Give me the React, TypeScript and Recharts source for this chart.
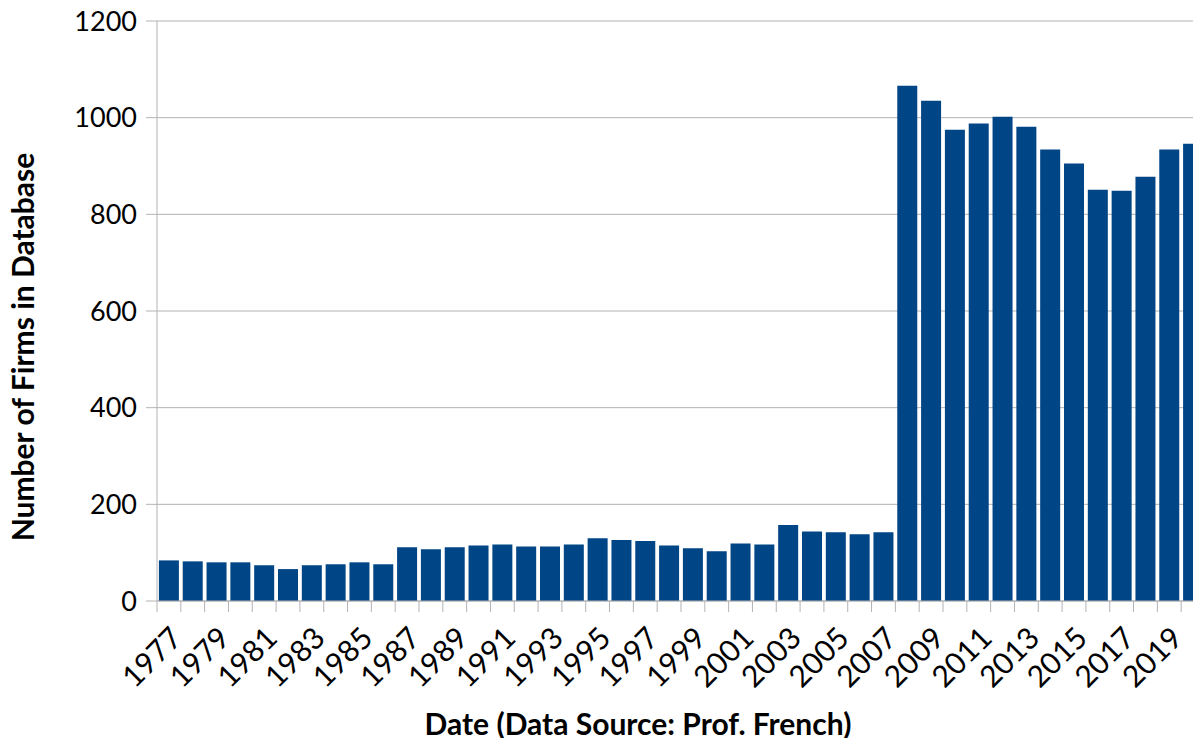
import { Bar, BarChart, CartesianGrid, XAxis, YAxis } from 'recharts';

const years = [
  '1977', '1978', '1979', '1980', '1981', '1982', '1983', '1984', '1985', '1986',
  '1987', '1988', '1989', '1990', '1991', '1992', '1993', '1994', '1995', '1996',
  '1997', '1998', '1999', '2000', '2001', '2002', '2003', '2004', '2005', '2006',
  '2007', '2008', '2009', '2010', '2011', '2012', '2013', '2014', '2015', '2016',
  '2017', '2018', '2019', '2020',
];

const firmCounts = [
  84, 82, 80, 80, 74, 66, 74, 76, 80, 76,
  111, 107, 111, 115, 117, 113, 113, 117, 130, 126,
  124, 115, 109, 103, 119, 117, 157, 144, 142, 138,
  142, 1066, 1035, 975, 988, 1002, 981, 934, 905, 851,
  849, 878, 934, 946,
];

const yTicks = [0, 200, 400, 600, 800, 1000, 1200];

const data = years.map((year, i) => ({ year, firms: firmCounts[i] }));

const CHART_W = 1205;
const CHART_H = 746;
const LEFT = 157;
const TOP = 21;
const BOTTOM = 145;
const BAND = (CHART_W - LEFT) / years.length;
const GREY = '#b3b3b3';
const FONT = 'Lato, "Open Sans", sans-serif';

function YearTick(props: any) {
  const { x, y, payload, index } = props;
  const left = x - BAND / 2;
  const tx = x + 15;
  const ty = y + 39;
  return (
    <g>
      <line x1={left} y1={y} x2={left} y2={y + 11} stroke={GREY} strokeWidth={1} />
      {index % 2 === 0 && (
        <text
          x={tx}
          y={ty}
          textAnchor="end"
          fontSize={30}
          fontFamily={FONT}
          fill="#000"
          transform={`rotate(-45, ${tx}, ${ty})`}
        >
          {payload.value}
        </text>
      )}
    </g>
  );
}

export default function App() {
  return (
    <div
      style={{
        position: 'relative',
        width: 1201,
        height: CHART_H,
        margin: -8,
        overflow: 'hidden',
        background: '#fff',
        fontFamily: FONT,
      }}
    >
      <div
        style={{
          position: 'absolute',
          left: 0,
          width: 1400,
          top: -31,
          textAlign: 'center',
          fontWeight: 700,
          fontSize: 30,
          whiteSpace: 'nowrap',
        }}
      >
        Firms in Sample
      </div>
      <BarChart
        width={CHART_W}
        height={CHART_H}
        data={data}
        margin={{ top: TOP, right: 0, left: 0, bottom: 0 }}
        barCategoryGap="8%"
      >
        <CartesianGrid vertical={false} stroke={GREY} strokeWidth={1} />
        <XAxis
          dataKey="year"
          interval={0}
          height={BOTTOM}
          tickSize={0}
          tickMargin={0}
          tickLine={false}
          axisLine={{ stroke: GREY }}
          tick={<YearTick />}
        />
        <YAxis
          width={LEFT}
          domain={[0, 1200]}
          ticks={yTicks}
          interval={0}
          tickSize={11}
          tickMargin={9}
          tickLine={{ stroke: GREY }}
          axisLine={{ stroke: GREY }}
          tick={{ fill: '#000', fontSize: 27, fontFamily: FONT }}
        />
        <Bar dataKey="firms" fill="#004586" isAnimationActive={false} />
      </BarChart>
      <div
        style={{
          position: 'absolute',
          left: 22,
          top: 347,
          transform: 'translate(-50%, -50%) rotate(-90deg)',
          fontWeight: 700,
          fontSize: 30,
          lineHeight: 1,
          whiteSpace: 'nowrap',
        }}
      >
        Number of Firms in Database
      </div>
      <div
        style={{
          position: 'absolute',
          left: 638,
          top: 723,
          transform: 'translate(-50%, -50%)',
          fontWeight: 700,
          fontSize: 30,
          lineHeight: 1,
          whiteSpace: 'nowrap',
        }}
      >
        Date (Data Source: Prof. French)
      </div>
    </div>
  );
}
